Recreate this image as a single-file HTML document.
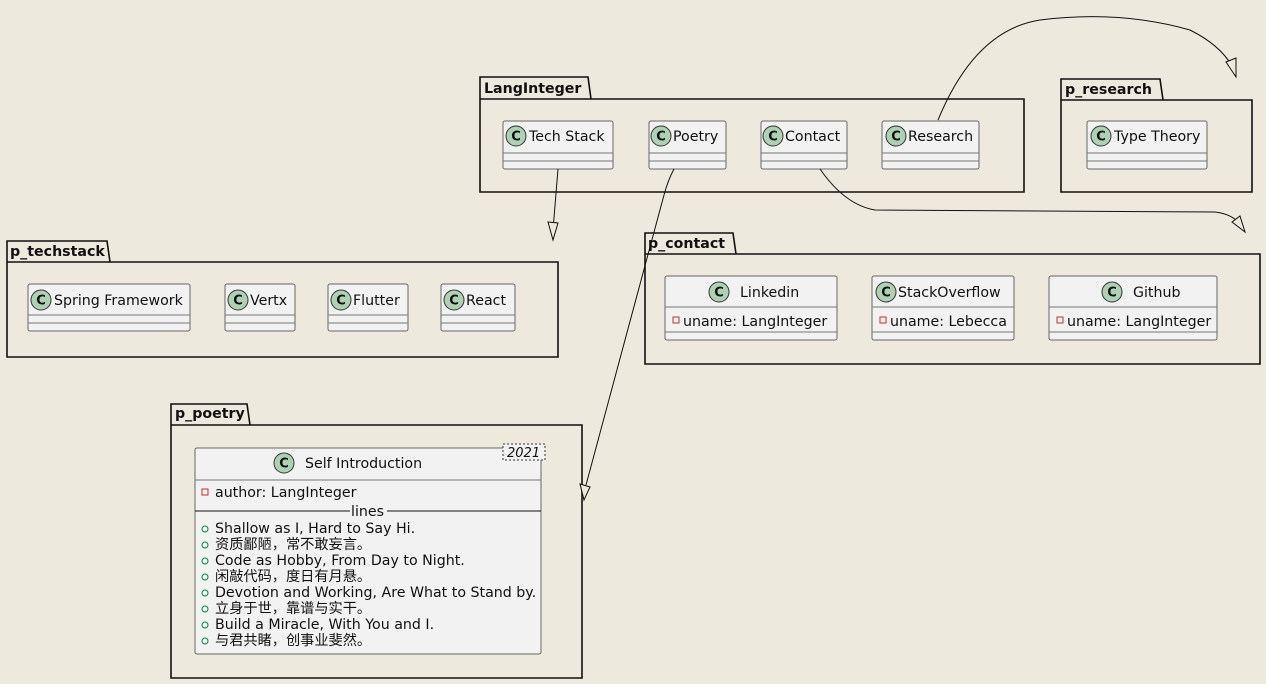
<!DOCTYPE html>
<html><head><meta charset="utf-8"><style>
html,body{margin:0;padding:0;background:#EDE9DC;}
svg{display:block}
text{font-family:"DejaVu Sans","Liberation Sans","Noto Sans CJK SC",sans-serif;fill:#111}
.pk{fill:none;stroke:#111;stroke-width:1.6}
.pt{font-weight:bold;font-size:14.2px}
.cb{fill:#F2F2F2;stroke:#666;stroke-width:1}
.ln{stroke:#777;stroke-width:1}
.ci{fill:#ADD1B2;stroke:#333;stroke-width:1}
.cl{font-weight:bold;font-size:13px;text-anchor:middle}
.nm{font-size:14.2px}
.ar{fill:none;stroke:#111;stroke-width:1}
.tri{fill:#EDE9DC;stroke:#111;stroke-width:1}
</style></head><body>
<svg width="1266" height="684" viewBox="0 0 1266 684" xmlns="http://www.w3.org/2000/svg">
<path class="pk" d="M480,99 V77 H588 L591,99 M480,99 H1024 V192 H480 Z"/>
<text class="pt" x="484" y="93">LangInteger</text>
<path class="pk" d="M1061,100 V79 H1160 L1163,100 M1061,100 H1252 V192 H1061 Z"/>
<text class="pt" x="1065" y="94">p_research</text>
<path class="pk" d="M7,262 V241 H107 L110,262 M7,262 H558 V357 H7 Z"/>
<text class="pt" x="10" y="256">p_techstack</text>
<path class="pk" d="M645,254 V233 H733 L736,254 M645,254 H1260 V364 H645 Z"/>
<text class="pt" x="648" y="248">p_contact</text>
<path class="pk" d="M171,425 V404 H247 L250,425 M171,425 H582 V678 H171 Z"/>
<text class="pt" x="175" y="418">p_poetry</text>

<g>
<rect class="cb" x="503" y="121" width="110" height="48" rx="2"/><line class="ln" x1="503" y1="153" x2="613" y2="153"/><line class="ln" x1="503" y1="161" x2="613" y2="161"/>
<circle class="ci" cx="516" cy="136" r="10"/><text class="cl" x="516" y="140.5">C</text><text class="nm" x="529" y="141">Tech Stack</text>
</g>
<g>
<rect class="cb" x="649" y="121" width="77" height="48" rx="2"/><line class="ln" x1="649" y1="153" x2="726" y2="153"/><line class="ln" x1="649" y1="161" x2="726" y2="161"/>
<circle class="ci" cx="661" cy="136" r="10"/><text class="cl" x="661" y="140.5">C</text><text class="nm" x="673" y="141">Poetry</text>
</g>
<g>
<rect class="cb" x="761" y="121" width="86" height="48" rx="2"/><line class="ln" x1="761" y1="153" x2="847" y2="153"/><line class="ln" x1="761" y1="161" x2="847" y2="161"/>
<circle class="ci" cx="773" cy="136" r="10"/><text class="cl" x="773" y="140.5">C</text><text class="nm" x="785" y="141">Contact</text>
</g>
<g>
<rect class="cb" x="882" y="121" width="97" height="48" rx="2"/><line class="ln" x1="882" y1="153" x2="979" y2="153"/><line class="ln" x1="882" y1="161" x2="979" y2="161"/>
<circle class="ci" cx="896" cy="136" r="10"/><text class="cl" x="896" y="140.5">C</text><text class="nm" x="908" y="141">Research</text>
</g>
<g>
<rect class="cb" x="1087" y="121" width="120" height="48" rx="2"/><line class="ln" x1="1087" y1="153" x2="1207" y2="153"/><line class="ln" x1="1087" y1="161" x2="1207" y2="161"/>
<circle class="ci" cx="1101" cy="136" r="10"/><text class="cl" x="1101" y="140.5">C</text><text class="nm" x="1114" y="141">Type Theory</text>
</g>
<g>
<rect class="cb" x="28" y="284" width="162" height="47" rx="2"/><line class="ln" x1="28" y1="315" x2="190" y2="315"/><line class="ln" x1="28" y1="323" x2="190" y2="323"/>
<circle class="ci" cx="41" cy="300" r="10"/><text class="cl" x="41" y="304.5">C</text><text class="nm" x="54" y="305">Spring Framework</text>
</g>
<g>
<rect class="cb" x="225" y="284" width="70" height="47" rx="2"/><line class="ln" x1="225" y1="315" x2="295" y2="315"/><line class="ln" x1="225" y1="323" x2="295" y2="323"/>
<circle class="ci" cx="238" cy="300" r="10"/><text class="cl" x="238" y="304.5">C</text><text class="nm" x="250" y="305">Vertx</text>
</g>
<g>
<rect class="cb" x="328" y="284" width="80" height="47" rx="2"/><line class="ln" x1="328" y1="315" x2="408" y2="315"/><line class="ln" x1="328" y1="323" x2="408" y2="323"/>
<circle class="ci" cx="341" cy="300" r="10"/><text class="cl" x="341" y="304.5">C</text><text class="nm" x="353" y="305">Flutter</text>
</g>
<g>
<rect class="cb" x="441" y="284" width="74" height="47" rx="2"/><line class="ln" x1="441" y1="315" x2="515" y2="315"/><line class="ln" x1="441" y1="323" x2="515" y2="323"/>
<circle class="ci" cx="454" cy="300" r="10"/><text class="cl" x="454" y="304.5">C</text><text class="nm" x="466" y="305">React</text>
</g>

<g>
<rect class="cb" x="665" y="276" width="172" height="64" rx="2"/><line class="ln" x1="665" y1="307" x2="837" y2="307"/><line class="ln" x1="665" y1="332" x2="837" y2="332"/>
<circle class="ci" cx="719" cy="292" r="10"/><text class="cl" x="719" y="296.5">C</text><text class="nm" x="740" y="297">Linkedin</text>
<rect x="673" y="317" width="6" height="6" fill="none" stroke="#C82930"/><text class="nm" x="683" y="326">uname: LangInteger</text>
</g>
<g>
<rect class="cb" x="872" y="276" width="142" height="64" rx="2"/><line class="ln" x1="872" y1="307" x2="1014" y2="307"/><line class="ln" x1="872" y1="332" x2="1014" y2="332"/>
<circle class="ci" cx="886" cy="292" r="10"/><text class="cl" x="886" y="296.5">C</text><text class="nm" x="898" y="297">StackOverflow</text>
<rect x="880" y="317" width="6" height="6" fill="none" stroke="#C82930"/><text class="nm" x="890" y="326">uname: Lebecca</text>
</g>
<g>
<rect class="cb" x="1049" y="276" width="168" height="64" rx="2"/><line class="ln" x1="1049" y1="307" x2="1217" y2="307"/><line class="ln" x1="1049" y1="332" x2="1217" y2="332"/>
<circle class="ci" cx="1112" cy="292" r="10"/><text class="cl" x="1112" y="296.5">C</text><text class="nm" x="1133" y="297">Github</text>
<rect x="1057" y="317" width="6" height="6" fill="none" stroke="#C82930"/><text class="nm" x="1067" y="326">uname: LangInteger</text>
</g>

<g>
<rect class="cb" x="195" y="448" width="346" height="206" rx="2"/>
<line class="ln" x1="195" y1="480" x2="541" y2="480"/>
<rect x="503" y="444" width="42" height="16" fill="#F2F2F2" stroke="#333" stroke-dasharray="2,2"/>
<text x="507" y="457" font-size="13" font-style="italic">2021</text>
<circle class="ci" cx="284" cy="463" r="10"/><text class="cl" x="284" y="467.5">C</text><text class="nm" x="305" y="468">Self Introduction</text>
<rect x="202" y="489" width="6" height="6" fill="none" stroke="#C82930"/><text class="nm" x="215" y="497">author: LangInteger</text>
<line x1="195" y1="511" x2="350" y2="511" stroke="#111"/><line x1="387" y1="511" x2="541" y2="511" stroke="#111"/>
<text class="nm" x="351" y="516">lines</text>
<g fill="none" stroke="#038048"><circle cx="205" cy="529" r="3"/><circle cx="205" cy="545" r="3"/><circle cx="205" cy="561" r="3"/><circle cx="205" cy="577" r="3"/><circle cx="205" cy="593" r="3"/><circle cx="205" cy="609" r="3"/><circle cx="205" cy="625" r="3"/><circle cx="205" cy="641" r="3"/></g>
<text class="nm" x="215" y="533">Shallow as I, Hard to Say Hi.</text>
<text class="nm" x="215" y="549">资质鄙陋，常不敢妄言。</text>
<text class="nm" x="215" y="565">Code as Hobby, From Day to Night.</text>
<text class="nm" x="215" y="581">闲敲代码，度日有月悬。</text>
<text class="nm" x="215" y="597">Devotion and Working, Are What to Stand by.</text>
<text class="nm" x="215" y="613">立身于世，靠谱与实干。</text>
<text class="nm" x="215" y="629">Build a Miracle, With You and I.</text>
<text class="nm" x="215" y="645">与君共睹，创事业斐然。</text>
</g>

<path class="ar" d="M558,169 L553,230"/>
<polygon class="tri" points="548,222 558,223 553,240"/>
<path class="ar" d="M674,169 Q668,180 664,195 L586,485"/>
<polygon class="tri" points="580,484 590,487 584,500"/>
<path class="ar" d="M820,169 Q845,205 875,210 L1215,212 Q1232,214 1240,224"/>
<polygon class="tri" points="1232,222 1240,216 1245,232"/>
<path class="ar" d="M938,120 Q975,30 1040,20 Q1120,10 1190,30 Q1220,45 1232,66"/>
<polygon class="tri" points="1226,62 1236,58 1236,77"/>
</svg>
</body></html>
